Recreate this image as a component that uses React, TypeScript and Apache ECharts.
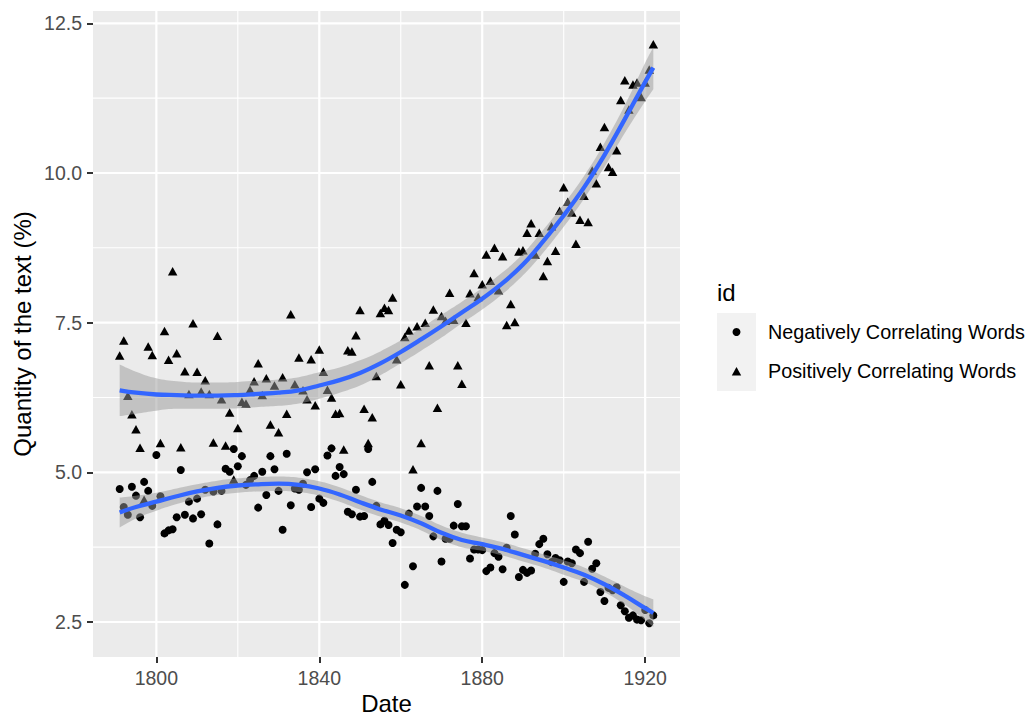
import React, { useEffect, useRef } from "react";
import * as echarts from "echarts";

const FONT = "'Liberation Sans', Arial, Helvetica, sans-serif";

// axis extents (ggplot 5% expansion)
const X_MIN = 1784.45;
const X_MAX = 1928.55;
const Y_MIN = 1.915;
const Y_MAX = 12.706;

const xBreaks = [1800, 1840, 1880, 1920];
const xMinorBreaks = [1820, 1860, 1900];
const yBreaks = [2.5, 5.0, 7.5, 10.0, 12.5];
const yMinorBreaks = [3.75, 6.25, 8.75, 11.25];

const seriesNames = ["Negatively Correlating Words", "Positively Correlating Words"];

// Negatively correlating words: [year, quantity %]
const negativePoints: [number, number][] = [
  [1791, 4.72], [1792, 4.42], [1793, 4.29], [1794, 4.76], [1795, 4.61], [1796, 4.25], [1797, 4.84], [1798, 4.69], [1799, 4.44], [1800, 5.29],
  [1801, 4.60], [1802, 3.98], [1803, 4.03], [1804, 4.05], [1805, 4.25], [1806, 5.04], [1807, 4.29], [1808, 4.51], [1809, 4.23], [1810, 4.56],
  [1811, 4.30], [1812, 4.71], [1813, 3.81], [1814, 4.68], [1815, 4.13], [1816, 4.69], [1817, 5.06], [1818, 5.01], [1819, 5.39], [1820, 5.10],
  [1821, 5.27], [1822, 4.79], [1823, 4.87], [1824, 4.94], [1825, 4.41], [1826, 5.01], [1827, 4.62], [1828, 5.27], [1829, 5.05], [1830, 4.69],
  [1831, 4.04], [1832, 5.31], [1833, 4.45], [1834, 4.73], [1835, 4.71], [1836, 4.81], [1837, 5.00], [1838, 4.42], [1839, 5.05], [1840, 4.56],
  [1841, 4.49], [1842, 5.28], [1843, 5.40], [1844, 4.94], [1845, 5.09], [1846, 4.97], [1847, 4.34], [1848, 4.30], [1849, 4.71], [1850, 4.26],
  [1851, 4.27], [1852, 5.39], [1853, 4.84], [1854, 4.44], [1855, 4.13], [1856, 4.19], [1857, 4.12], [1858, 3.82], [1859, 4.04], [1860, 4.00],
  [1861, 3.12], [1862, 4.31], [1863, 3.43], [1864, 4.43], [1865, 4.74], [1866, 4.43], [1867, 4.27], [1868, 3.93], [1869, 4.69], [1870, 3.51],
  [1871, 3.89], [1872, 3.89], [1873, 4.11], [1874, 4.47], [1875, 4.10], [1876, 4.10], [1877, 3.56], [1878, 3.71], [1879, 3.71], [1880, 3.70],
  [1881, 3.35], [1882, 3.41], [1883, 3.65], [1884, 3.59], [1885, 3.38], [1886, 3.74], [1887, 4.27], [1888, 3.96], [1889, 3.25], [1890, 3.37],
  [1891, 3.32], [1892, 3.36], [1893, 3.64], [1894, 3.80], [1895, 3.89], [1896, 3.63], [1897, 3.50], [1898, 3.57], [1899, 3.53], [1900, 3.17],
  [1901, 3.51], [1902, 3.48], [1903, 3.71], [1904, 3.65], [1905, 3.17], [1906, 3.84], [1907, 3.39], [1908, 3.48], [1909, 3.00], [1910, 2.85],
  [1911, 3.07], [1912, 3.03], [1913, 3.08], [1914, 2.78], [1915, 2.68], [1916, 2.57], [1917, 2.61], [1918, 2.54], [1919, 2.53], [1920, 2.70],
  [1921, 2.48], [1922, 2.61],
];

// Positively correlating words: [year, quantity %]
const positivePoints: [number, number][] = [
  [1791, 6.95], [1792, 7.20], [1793, 6.28], [1794, 5.97], [1795, 5.72], [1796, 5.41], [1797, 4.54], [1798, 7.10], [1799, 6.96],
  [1801, 5.49], [1802, 7.36], [1803, 6.88], [1804, 8.36], [1805, 6.99], [1806, 5.42], [1807, 6.69], [1808, 6.31], [1809, 7.49], [1810, 6.68],
  [1811, 6.35], [1812, 6.54], [1813, 6.31], [1814, 5.50], [1815, 7.28], [1816, 6.22], [1817, 5.45], [1818, 6.00], [1819, 4.88], [1820, 5.74],
  [1821, 6.18], [1822, 6.15], [1823, 6.38], [1824, 6.52], [1825, 6.82], [1826, 6.29], [1827, 6.57], [1828, 5.80], [1829, 6.45], [1830, 5.67],
  [1831, 6.59], [1832, 5.98], [1833, 7.64], [1834, 6.47], [1835, 6.92], [1836, 6.37], [1837, 6.22], [1838, 6.89], [1839, 6.12], [1840, 7.05],
  [1841, 6.68], [1842, 6.38], [1843, 6.25], [1844, 5.98], [1845, 5.99], [1846, 5.38], [1847, 7.04], [1848, 7.02], [1849, 7.29], [1850, 7.71],
  [1851, 6.06], [1852, 5.49], [1853, 5.92], [1854, 6.61], [1855, 7.66], [1856, 7.75], [1857, 7.71], [1858, 7.92], [1859, 6.89], [1860, 6.47],
  [1861, 7.26], [1862, 7.37], [1863, 5.05], [1864, 7.44], [1865, 5.49], [1866, 7.50], [1867, 6.79], [1868, 7.72], [1869, 6.08], [1870, 7.61],
  [1871, 7.53], [1872, 8.00], [1873, 7.55], [1874, 6.79], [1875, 6.48], [1876, 7.50], [1877, 7.99], [1878, 8.33], [1879, 7.93], [1880, 8.14],
  [1881, 8.64], [1882, 8.20], [1883, 8.75], [1884, 8.04], [1885, 8.61], [1886, 7.46], [1887, 7.81], [1888, 7.51], [1889, 8.69], [1890, 8.71],
  [1891, 9.00], [1892, 9.16], [1893, 8.64], [1894, 9.00], [1895, 8.28], [1896, 8.53], [1897, 9.11], [1898, 8.70], [1899, 9.37], [1900, 9.76],
  [1901, 9.52], [1902, 9.34], [1903, 8.82], [1904, 9.22], [1905, 9.62], [1906, 9.18], [1907, 10.04], [1908, 9.83], [1909, 10.44], [1910, 10.77],
  [1911, 10.10], [1912, 10.02], [1913, 10.38], [1914, 11.22], [1915, 11.55], [1916, 11.06], [1917, 11.48], [1918, 11.51], [1919, 11.27], [1920, 11.51],
  [1921, 11.73], [1922, 12.15],
];

// Smoothed fits and their confidence bands
const fitYears = [1791, 1795, 1800, 1805, 1810, 1815, 1820, 1825, 1830, 1835, 1840, 1845, 1850, 1855, 1860, 1865, 1870, 1875, 1880, 1885, 1890, 1895, 1900, 1905, 1910, 1915, 1920, 1922];

const negFit = [4.33, 4.42, 4.51, 4.60, 4.68, 4.74, 4.78, 4.80, 4.81, 4.79, 4.73, 4.63, 4.50, 4.38, 4.28, 4.15, 3.99, 3.87, 3.80, 3.72, 3.62, 3.52, 3.41, 3.29, 3.13, 2.94, 2.73, 2.65];
const negLower = [4.08, 4.23, 4.36, 4.47, 4.56, 4.62, 4.66, 4.68, 4.69, 4.67, 4.61, 4.51, 4.38, 4.26, 4.16, 4.03, 3.87, 3.75, 3.69, 3.61, 3.51, 3.41, 3.29, 3.17, 3.00, 2.79, 2.53, 2.42];
const negUpper = [4.58, 4.61, 4.66, 4.73, 4.80, 4.86, 4.90, 4.92, 4.93, 4.91, 4.85, 4.75, 4.62, 4.50, 4.40, 4.27, 4.11, 3.99, 3.91, 3.83, 3.73, 3.63, 3.53, 3.41, 3.26, 3.09, 2.93, 2.88];

const posFit = [6.37, 6.33, 6.30, 6.29, 6.28, 6.28, 6.29, 6.31, 6.33, 6.37, 6.45, 6.54, 6.66, 6.82, 7.01, 7.22, 7.44, 7.67, 7.90, 8.16, 8.47, 8.86, 9.29, 9.76, 10.30, 10.90, 11.52, 11.76];
const posLower = [5.94, 5.98, 6.03, 6.06, 6.06, 6.06, 6.07, 6.09, 6.11, 6.15, 6.23, 6.33, 6.45, 6.62, 6.82, 7.03, 7.25, 7.49, 7.72, 7.98, 8.29, 8.67, 9.10, 9.57, 10.10, 10.67, 11.20, 11.40];
const posUpper = [6.80, 6.68, 6.57, 6.52, 6.50, 6.50, 6.51, 6.53, 6.55, 6.59, 6.67, 6.75, 6.87, 7.02, 7.20, 7.41, 7.63, 7.85, 8.08, 8.34, 8.65, 9.05, 9.48, 9.95, 10.50, 11.13, 11.84, 12.10];

const BAND_COLOR = "#999999";
const FIT_COLOR = "#3366FF";

// band: lower edge + (upper - lower) stacked on it; values put first so that
// the stack is computed on the y dimension.
function bandSeries(name: string, lower: number[], upper: number[]) {
  const stack = name + "-band";
  return [
    {
      type: "line",
      name: stack + "-lo",
      stack,
      z: 3,
      silent: true,
      smooth: 0.4,
      symbol: "none",
      encode: { x: 1, y: 0 },
      lineStyle: { width: 0, opacity: 0 },
      data: fitYears.map((y, i) => [lower[i], y]),
    },
    {
      type: "line",
      name: stack + "-hi",
      stack,
      z: 3,
      silent: true,
      smooth: 0.4,
      symbol: "none",
      encode: { x: 1, y: 0 },
      lineStyle: { width: 0, opacity: 0 },
      areaStyle: { color: BAND_COLOR, opacity: 0.5 },
      data: fitYears.map((y, i) => [upper[i] - lower[i], y]),
    },
  ];
}

function fitSeries(name: string, fit: number[]) {
  return {
    type: "line",
    name: name + "-fit",
    z: 4,
    silent: true,
    smooth: 0.4,
    symbol: "none",
    lineStyle: { color: FIT_COLOR, width: 4.3 },
    data: fitYears.map((y, i) => [y, fit[i]]),
  };
}

export default function App() {
  const ref = useRef<HTMLDivElement>(null);

  useEffect(() => {
    if (!ref.current) return;
    const chart = echarts.init(ref.current, null, { renderer: "svg" });

    const gridItems: number[][] = [
      ...xMinorBreaks.map((v) => [v, 0, 0]),
      ...yMinorBreaks.map((v) => [v, 1, 0]),
      ...xBreaks.map((v) => [v, 0, 1]),
      ...yBreaks.map((v) => [v, 1, 1]),
    ];

    const labelStyle = { color: "#4D4D4D", fontSize: 19.5, fontFamily: FONT };

    const option: any = {
      animation: false,
      backgroundColor: "#FFFFFF",
      grid: {
        left: 93,
        top: 11,
        width: 587,
        height: 646,
        show: true,
        backgroundColor: "#EBEBEB",
        borderWidth: 0,
      },
      xAxis: {
        type: "value",
        min: X_MIN,
        max: X_MAX,
        axisLine: { show: false },
        axisTick: { show: true, length: 6, lineStyle: { color: "#333333", width: 2 }, customValues: xBreaks },
        axisLabel: { ...labelStyle, margin: 11, customValues: xBreaks, formatter: (v: number) => String(v) },
        splitLine: { show: false },
      },
      yAxis: {
        type: "value",
        min: Y_MIN,
        max: Y_MAX,
        axisLine: { show: false },
        axisTick: { show: true, length: 6, lineStyle: { color: "#333333", width: 2 }, customValues: yBreaks },
        axisLabel: { ...labelStyle, margin: 11, customValues: yBreaks, formatter: (v: number) => v.toFixed(1) },
        splitLine: { show: false },
      },
      series: [
        {
          type: "custom",
          name: "gridlines",
          z: 1,
          silent: true,
          data: gridItems,
          renderItem: (_params: any, api: any) => {
            const v = api.value(0);
            const isX = api.value(1) === 0;
            const major = api.value(2) === 1;
            const p1 = isX ? api.coord([v, Y_MIN]) : api.coord([X_MIN, v]);
            const p2 = isX ? api.coord([v, Y_MAX]) : api.coord([X_MAX, v]);
            return {
              type: "line",
              shape: { x1: p1[0], y1: p1[1], x2: p2[0], y2: p2[1] },
              style: { stroke: "#FFFFFF", lineWidth: major ? 2.2 : 1.1 },
            };
          },
        },
        {
          type: "scatter",
          name: seriesNames[0],
          z: 2,
          symbol: "circle",
          symbolSize: 8,
          itemStyle: { color: "#000000", opacity: 1 },
          data: negativePoints,
        },
        {
          type: "scatter",
          name: seriesNames[1],
          z: 2,
          symbol: "triangle",
          symbolSize: [9.5, 8.5],
          itemStyle: { color: "#000000", opacity: 1 },
          data: positivePoints,
        },
        ...bandSeries("neg", negLower, negUpper),
        ...bandSeries("pos", posLower, posUpper),
        fitSeries("neg", negFit),
        fitSeries("pos", posFit),
      ],
      graphic: [
        {
          type: "text",
          x: 386.5,
          y: 703,
          style: { text: "Date", fill: "#000000", font: `24px ${FONT}`, align: "center", verticalAlign: "middle" },
        },
        {
          type: "text",
          x: 22,
          y: 334,
          rotation: Math.PI / 2,
          style: { text: "Quantity of the text (%)", fill: "#000000", font: `24px ${FONT}`, align: "center", verticalAlign: "middle" },
        },
        {
          type: "text",
          x: 717,
          y: 292,
          style: { text: "id", fill: "#000000", font: `24px ${FONT}`, align: "left", verticalAlign: "middle" },
        },
        {
          type: "rect",
          shape: { x: 717, y: 313, width: 39, height: 78 },
          style: { fill: "#F2F2F2" },
        },
        {
          type: "circle",
          shape: { cx: 736.5, cy: 332, r: 4 },
          style: { fill: "#000000" },
        },
        {
          type: "polygon",
          shape: { points: [[731.8, 375.5], [741.2, 375.5], [736.5, 367]] },
          style: { fill: "#000000" },
        },
        {
          type: "text",
          x: 768,
          y: 332,
          style: { text: seriesNames[0], fill: "#000000", font: `19.8px ${FONT}`, align: "left", verticalAlign: "middle" },
        },
        {
          type: "text",
          x: 768,
          y: 371,
          style: { text: seriesNames[1], fill: "#000000", font: `19.8px ${FONT}`, align: "left", verticalAlign: "middle" },
        },
      ],
    };

    chart.setOption(option);
    return () => chart.dispose();
  }, []);

  return <div ref={ref} style={{ width: 1036, height: 717, position: "absolute", left: 0, top: 0 }} />;
}
